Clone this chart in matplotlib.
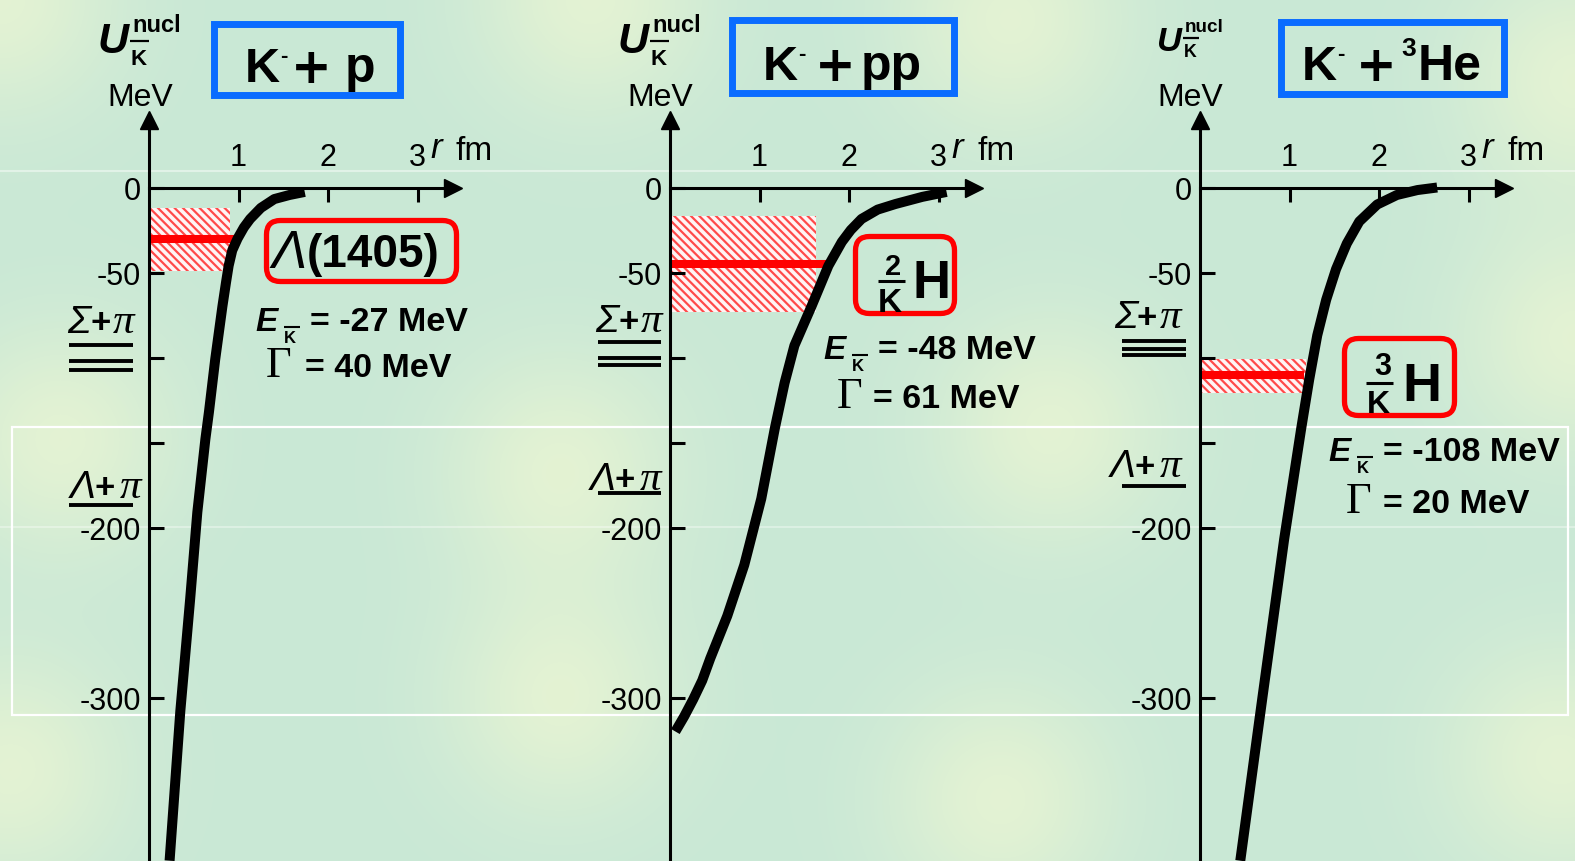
import numpy as np
import matplotlib.pyplot as plt
from matplotlib.patches import Rectangle, FancyBboxPatch

plt.rcParams['font.family'] = ['Liberation Sans', 'DejaVu Sans']
plt.rcParams['hatch.linewidth'] = 1.6

W, H = 1575, 862

# ---- data ----
systems = ["K-p", "K-pp", "K-3He"]
curve_r = [
    [0.23, 0.35, 0.46, 0.54, 0.63, 0.67, 0.74, 0.82, 0.86, 0.89, 0.93, 0.99, 1.06, 1.13,
     1.25, 1.40, 1.57, 1.74],
    [0.06, 0.16, 0.26, 0.36, 0.45, 0.64, 0.83, 1.02, 1.17, 1.28, 1.39, 1.58, 1.77, 1.92,
     2.02, 2.14, 2.32, 2.52, 2.82, 3.09],
    [0.45, 0.70, 0.94, 1.13, 1.22, 1.31, 1.41, 1.52, 1.64, 1.78, 1.98, 2.20, 2.43, 2.65],
]
curve_u = [
    [-396, -308, -242, -191, -148, -132, -101, -70, -56, -46, -37, -30, -23.5, -18.5,
     -12, -6.8, -4.4, -2.6],
    [-320, -311, -301, -290, -277, -252, -222, -183, -142, -115, -93, -70, -46, -32,
     -25, -18.5, -13, -9.7, -5.5, -2.6],
    [-396, -299, -207, -142, -113, -87, -66, -48, -33, -20, -10, -4.4, -1.5, 0],
]
level_u = [-30, -45, -110]
band_lo = [-49, -73, -121]
band_hi = [-12, -17, -101]
band_r = [0.90, 1.63, 1.18]
level_r = [1.0, 1.76, 1.16]
E_vals = [-27, -48, -108]
G_vals = [40, 61, 20]
sigma_pi = [[-92.6, -102, -107.4], [-90.9, -100.3, -104.4], [-90.3, -95, -98.5]]
lambda_pi = [-186.8, -179.7, -175.6]
thr_r = [(-0.89, -0.18), (-0.81, -0.10), (-0.87, -0.16)]
xticks = [1, 2, 3]
yticks = [0, -50, -100, -150, -200, -300]
ytick_labels = ["0", "-50", "", "", "-200", "-300"]

# ---- layout (pixels) ----
SX, SY, Y0 = 89.5, 1.70, 188.5
origins = [149, 670, 1200]
XMIN, XMAX = -1.25, 3.8

fig = plt.figure(figsize=(W / 100, H / 100), dpi=100)

# background
yy, xx = np.mgrid[0:H, 0:W]
base = np.array([201, 232, 214]) / 255
yellow = np.array([236, 246, 210]) / 255
spots = [(0, 0), (590, 0), (1010, 20), (1575, 80), (60, 440), (560, 470),
         (1050, 430), (1575, 340), (10, 770), (560, 700), (1000, 800), (1560, 760)]
w = np.zeros((H, W))
for cx, cy in spots:
    w += 0.75 * np.exp(-((xx - cx) ** 2 + (yy - cy) ** 2) / (2 * 80 ** 2))
w = np.clip(w, 0, 1)
img = base + (yellow - base) * w[..., None]
bg = fig.add_axes([0, 0, 1, 1], zorder=-5)
bg.imshow(img, extent=[0, W, H, 0], aspect='auto')
bg.set_xlim(0, W)
bg.set_ylim(H, 0)
bg.axis('off')
bg.add_patch(Rectangle((12, 428), 1556, 288, fill=False, ec='white', lw=1.6))
bg.plot([0, W], [172, 172], color='white', lw=1.5, alpha=0.45)
bg.plot([0, W], [528, 528], color='white', lw=1.5, alpha=0.35)

for i, ox in enumerate(origins):
    ax = fig.add_axes([(ox + XMIN * SX) / W, 0, (XMAX - XMIN) * SX / W, 1])
    ax.patch.set_visible(False)
    ax.set_xlim(XMIN, XMAX)
    ax.set_ylim(-(H - Y0) / SY, Y0 / SY)
    for s in ['right', 'bottom']:
        ax.spines[s].set_visible(False)
    ax.spines['left'].set_position(('data', 0))
    ax.spines['left'].set_bounds(-(H - Y0) / SY, 40)
    ax.spines['top'].set_position(('data', 0))
    ax.spines['top'].set_bounds(0, 3.4)
    for s in ['left', 'top']:
        ax.spines[s].set_linewidth(2.2)
    ax.xaxis.set_ticks_position('top')
    ax.set_xticks(xticks)
    ax.set_xticklabels([str(t) for t in xticks])
    ax.set_yticks(yticks)
    ax.set_yticklabels(ytick_labels)
    ax.tick_params(axis='x', direction='in', length=10, width=2.2, labelsize=22, pad=11)
    ax.tick_params(axis='y', direction='in', length=11, width=2.2, labelsize=22, pad=6)
    ax.plot([0], [40], marker='^', ms=13, color='black', clip_on=False)
    ax.plot([3.4], [0], marker='>', ms=13, color='black', clip_on=False)

    ax.add_patch(Rectangle((0, band_lo[i]), band_r[i], band_hi[i] - band_lo[i],
                           facecolor='#fff4f4', edgecolor='#ff4a4a', lw=0,
                           hatch='\\\\\\\\', zorder=1))
    ax.plot([0, level_r[i]], [level_u[i], level_u[i]], color='#ff0000', lw=5.8,
            solid_capstyle='butt', zorder=2)
    ax.plot(curve_r[i], curve_u[i], color='black', lw=7.2,
            solid_capstyle='butt', solid_joinstyle='round', zorder=3)
    ax.hlines(sigma_pi[i], thr_r[i][0], thr_r[i][1], color='black', lw=2.8)
    ax.hlines(lambda_pi[i], thr_r[i][0], thr_r[i][1], color='black', lw=2.8)

# ---- overlay text in pixel coordinates ----
ov = fig.add_axes([0, 0, 1, 1], zorder=10)
ov.set_xlim(0, W)
ov.set_ylim(H, 0)
ov.axis('off')


def t(x, y, s, size, weight='normal', style='normal', family=None, ha='left'):
    kw = {}
    if family:
        kw['family'] = family
    ov.text(x, y, s, fontsize=size, fontweight=weight, fontstyle=style,
            va='baseline', ha=ha, **kw)


def bar(x0, x1, y, lw=2.0, color='black'):
    ov.plot([x0, x1], [y, y], color=color, lw=lw, solid_capstyle='butt')


# axis labels
ulab = [(97, 1.0), (617, 1.0), (1157, 0.8)]
mev_x = [140, 660, 1190]
for (ux, sc), mx in zip(ulab, mev_x):
    t(ux, 53 - (1 - sc) * 8, "U", 31 * sc, weight='bold', style='italic')
    t(ux + 35 * sc, 32, "nucl", 17 * sc, weight='bold')
    t(ux + 33 * sc, 65 - (1 - sc) * 40, "K", 16 * sc, weight='bold')
    bar(ux + 33 * sc, ux + 33 * sc + 19 * sc, 42 - (1 - sc) * 14, lw=1.6)
    t(mx, 106, "MeV", 23, ha='center')

# r fm labels
for ox in origins:
    t(ox + 281, 158, "r", 25, style='italic')
    t(ox + 307, 160, "fm", 24)

# title boxes
boxes = [(213.5, 24.5, 186, 71), (731.5, 20.5, 222, 73), (1280.5, 22.5, 223, 72)]
for bx, by, bw, bh in boxes:
    ov.add_patch(Rectangle((bx, by), bw, bh, fill=False, ec='#0a6cff', lw=5))
titles = [
    [(245, 82, "K", 35), (280, 62, "-", 16), (345, 82, "p", 36)],
    [(763, 80, "K", 35), (798, 60, "-", 16), (861, 80, "pp", 36)],
    [(1302, 80, "K", 35), (1337, 60, "-", 16), (1401, 56, "3", 19), (1418, 80, "He", 36)],
]
plus_x = [(291, 83), (815, 81), (1356, 81)]
for parts, (px, py) in zip(titles, plus_x):
    for x, y, s, size in parts:
        t(x, y, s, size, weight='bold')
    t(px, py, "+", 35, weight='bold', family='DejaVu Sans')

# state boxes
sboxes = [(266.5, 221.5, 190, 61), (855.5, 237.5, 99, 77), (1344.5, 339.5, 110, 77)]
for bx, by, bw, bh in sboxes:
    ov.add_patch(FancyBboxPatch((bx, by), bw, bh, boxstyle='round,pad=0,rounding_size=14',
                                fill=False, ec='#ff0000', lw=3.8))
t(271, 268, "Λ", 38, style='italic')
t(307, 267, "(1405)", 33, weight='bold')
t(885, 275, "2", 21, weight='bold')
bar(878, 905, 282, lw=2.2)
t(878, 312, "K", 24, weight='bold')
t(913, 298, "H", 38, weight='bold')
t(1374, 375, "3", 22, weight='bold')
bar(1366, 1393, 384, lw=2.2)
t(1367, 413, "K", 23, weight='bold')
t(1402, 401, "H", 39, weight='bold')

# E and Gamma
epos = [(255, 331, 310, 266, 377, 305), (823, 359, 878, 837, 408, 873),
        (1328, 461, 1383, 1346, 513, 1383)]
for (ex, ey, eqx, gx, gy, gqx), ev, gv in zip(epos, E_vals, G_vals):
    t(ex, ey, "E", 24, weight='bold', style='italic')
    t(ex + 29, ey + 12, "K", 12, weight='bold')
    bar(ex + 29, ex + 45, ey - 3, lw=1.5)
    t(eqx, ey, f"= {ev} MeV", 24.5, weight='bold')
    t(gx, gy, "Γ", 32, family='Liberation Serif')
    t(gqx, gy, f"= {gv} MeV", 24.5, weight='bold')

# threshold labels
spos = [(67, 333), (595, 332), (1114, 328)]
lpos = [(70, 498), (590, 490), (1110, 477)]
for (sx, sy), (lx, ly) in zip(spos, lpos):
    t(sx, sy, "Σ", 28, style='italic')
    t(sx + 23, sy, "+", 25, weight='bold')
    t(sx + 46, sy, "π", 31, style='italic', family='Liberation Serif')
    t(lx, ly, "Λ", 28, style='italic')
    t(lx + 24, ly, "+", 25, weight='bold')
    t(lx + 50, ly, "π", 31, style='italic', family='Liberation Serif')

fig.savefig("out.png", dpi=100)
